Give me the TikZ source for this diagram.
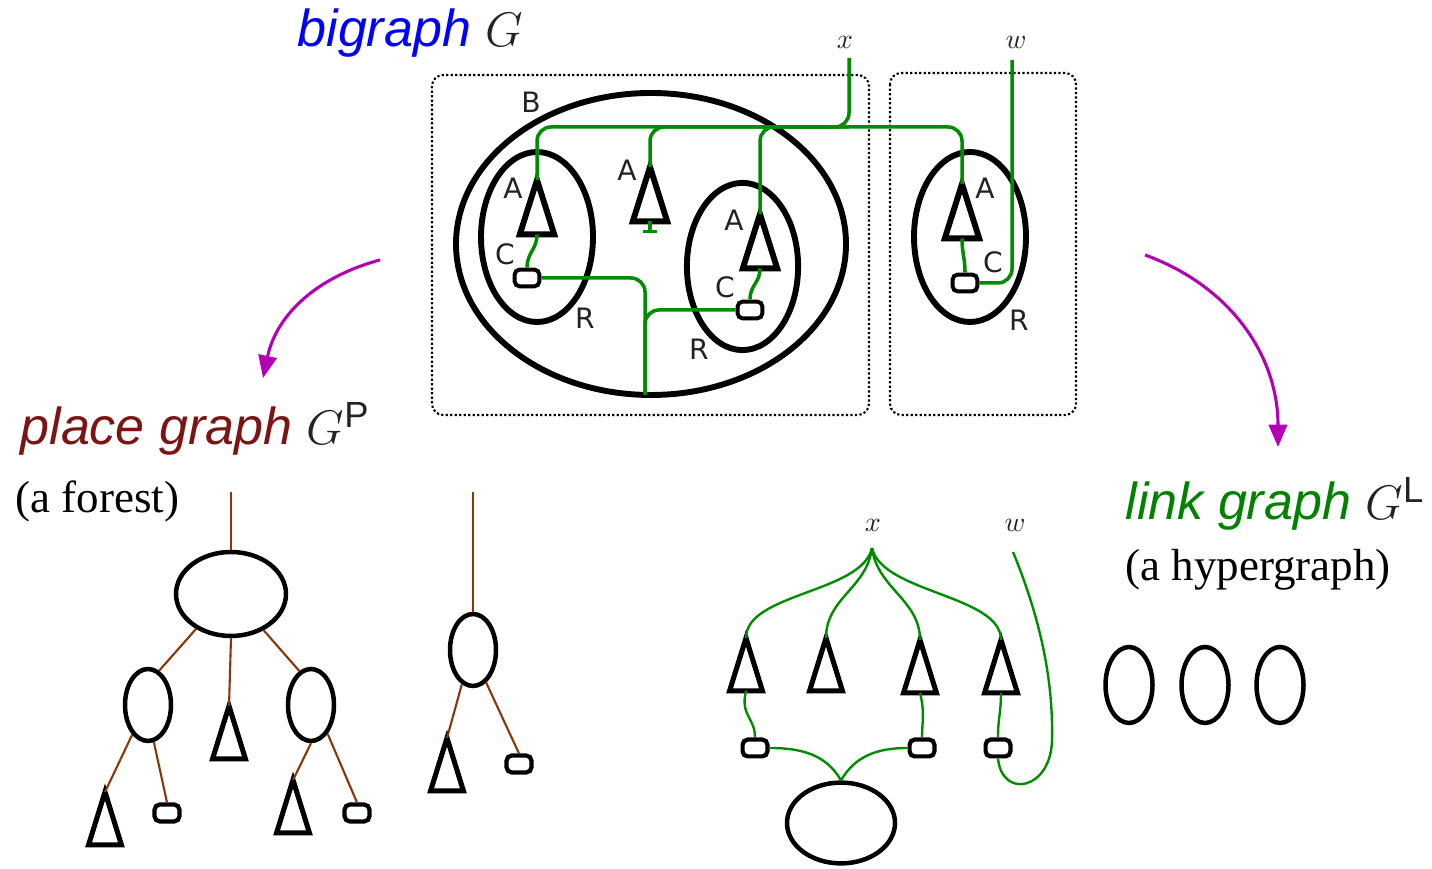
\documentclass[tikz,border=0pt]{standalone}
\usepackage{fontspec}
\setmainfont{Liberation Serif}
\setsansfont{Liberation Sans}
\newfontfamily\ctrlfont{DejaVu Sans}
\usetikzlibrary{arrows.meta,shapes.geometric}
\definecolor{linkgreen}{RGB}{0,140,0}
\definecolor{titlegreen}{RGB}{0,130,0}
\definecolor{placered}{RGB}{125,20,20}
\definecolor{edgebrown}{RGB}{135,55,10}
\definecolor{mapviolet}{RGB}{180,0,180}
\definecolor{labelgrey}{RGB}{35,35,35}
\tikzset{
  region/.style={draw=black,line width=2.1pt,ellipse,inner sep=0pt},
  ctrl/.style={draw=black,line width=2.1pt,isosceles triangle,isosceles triangle stretches,
               shape border rotate=90,minimum width=4.3mm,minimum height=6.8mm,inner sep=0pt,outer sep=0pt},
  atom/.style={draw=black,line width=1.4pt,rounded corners=1.8pt,minimum width=3.1mm,
               minimum height=2.1mm,inner sep=0pt},
  link/.style={linkgreen,line width=1.25pt},
  hyper/.style={linkgreen,line width=0.85pt},
  pedge/.style={edgebrown,line width=0.75pt},
  rootbox/.style={black,line width=0.75pt,dash pattern=on 0.8pt off 0.8pt,rounded corners=4pt},
  ctl/.style={font=\ctrlfont\fontsize{10}{12}\selectfont,text=labelgrey,inner sep=0pt},
  nm/.style={font=\normalsize,text=labelgrey,inner sep=0pt},
  title/.style={font=\sffamily\itshape\fontsize{18.5}{22}\selectfont,text=labelgrey,
                anchor=base west,inner sep=0pt},
  sub/.style={font=\fontsize{16}{19}\selectfont,anchor=base west,inner sep=0pt},
  decomp/.style={mapviolet,line width=1.1pt,-{Triangle[length=2.8mm,width=2.3mm]}},
}

\begin{document}
\begin{tikzpicture}[x=1.25cm,y=1.25cm]
  \path[use as bounding box] (0,0) rectangle (14.32,8.69);

  % titles
  \node[title] (tBig) at (2.97,8.22) {\textcolor{blue}{bigraph} $G$};
  \node[title] (tPlace) at (0.20,4.24) {\textcolor{placered}{place graph} $G^{\mathsf{P}}$};
  \node[sub] (sPlace) at (0.15,3.56) {(a forest)};
  \node[title] (tLink) at (11.25,3.49) {\textcolor{titlegreen}{link graph} $G^{\mathsf{L}}$};
  \node[sub] (sLink) at (11.25,2.88) {(a hypergraph)};

  % the bigraph: two roots
  \draw[rootbox] (4.32,7.94) rectangle (8.69,4.54);
  \draw[rootbox] (8.90,7.96) rectangle (10.76,4.54);

  \node[region,minimum width=4.875cm,minimum height=3.775cm] (rB) at (6.51,6.25) {};
  \node[region,minimum width=1.4cm,minimum height=2.125cm] (rL) at (5.37,6.32) {};
  \node[region,minimum width=1.39cm,minimum height=2.09cm] (rR) at (7.425,6.025) {};
  \node[region,minimum width=1.4cm,minimum height=2.125cm] (rW) at (9.70,6.32) {};

  \node[ctrl,anchor=apex] (cL) at (5.37,6.89) {};
  \node[ctrl,anchor=apex] (cM) at (6.50,7.02) {};
  \node[ctrl,anchor=apex] (cR) at (7.60,6.55) {};
  \node[ctrl,anchor=apex] (cW) at (9.62,6.85) {};

  \node[atom] (aL) at (5.27,5.91) {};
  \node[atom] (aR) at (7.50,5.59) {};
  \node[atom] (aW) at (9.65,5.86) {};

  \node[ctl] (lbB) at (5.31,7.67) {B};
  \node[ctl] (lbAL) at (5.13,6.81) {A};
  \node[ctl] (lbCL) at (5.05,6.15) {C};
  \node[ctl] (lbRL) at (5.85,5.51) {R};
  \node[ctl] (lbAM) at (6.27,6.99) {A};
  \node[ctl] (lbAR) at (7.34,6.49) {A};
  \node[ctl] (lbCR) at (7.25,5.82) {C};
  \node[ctl] (lbRR) at (6.99,5.20) {R};
  \node[ctl] (lbAW) at (9.85,6.81) {A};
  \node[ctl] (lbCW) at (9.93,6.07) {C};
  \node[ctl] (lbRW) at (10.19,5.49) {R};

  \node[nm] (nx) at (8.45,8.27) {$x$};
  \node[nm] (nw) at (10.16,8.27) {$w$};
  \coordinate (xtop) at (8.49,8.11);
  \coordinate (xjoin) at (8.49,7.42);
  \coordinate (wtop) at (10.12,8.09);
  \coordinate (rootB) at (6.45,4.74);

  % links of G
  \draw[link,rounded corners=5pt] (xtop) -- (xjoin) -| (cL.apex);
  \draw[link,rounded corners=5pt] (xjoin) -| (cM.apex);
  \draw[link,rounded corners=5pt] (xjoin) -| (cR.apex);
  \draw[link,rounded corners=5pt] (xjoin) -| (cW.apex);
  \draw[link] (cM.lower side) -- ++(0,-0.1) ++(-0.07,0) -- ++(0.14,0);
  \draw[link] (cL.lower side) .. controls +(0,-0.15) and +(0,0.15) .. (aL.north);
  \draw[link] (cR.lower side) .. controls +(0,-0.15) and +(0,0.15) .. (aR.north);
  \draw[link] (cW.lower side) .. controls +(0,-0.15) and +(0,0.15) .. (aW.north);
  \draw[link,rounded corners=5pt] (aL.east) -| (rootB);
  \draw[link,rounded corners=5pt] (aR.west) -| (rootB);
  \draw[link,rounded corners=5pt] (aW.east) -| (wtop);

  % decomposition arrows
  \coordinate (toPlaceS) at (3.80,6.09);
  \coordinate (toPlaceE) at (2.63,4.91);
  \coordinate (toLinkS) at (11.45,6.14);
  \coordinate (toLinkE) at (12.78,4.22);
  \draw[decomp] (toPlaceS) to[out=195,in=78] (toPlaceE);
  \draw[decomp] (toLinkS) to[out=-20,in=90] (toLinkE);

  % place graph
  \begin{scope}[region/.append style={line width=1.6pt},
                ctrl/.append style={line width=1.8pt,minimum width=4.1mm,minimum height=6.6mm},
                atom/.append style={line width=1.5pt}]
  \node[region,minimum width=1.375cm,minimum height=1.05cm] (pRoot) at (2.31,2.75) {};
  \node[region,minimum width=0.575cm,minimum height=0.9cm] (pL) at (1.48,1.64) {};
  \node[region,minimum width=0.575cm,minimum height=0.9cm] (pR) at (3.11,1.64) {};
  \node[region,minimum width=0.575cm,minimum height=0.9cm] (pT) at (4.73,2.19) {};
  \node[ctrl,anchor=apex] (pLc) at (1.05,0.77) {};
  \node[ctrl,anchor=apex] (pMc) at (2.29,1.63) {};
  \node[ctrl,anchor=apex] (pRc) at (2.93,0.89) {};
  \node[ctrl,anchor=apex] (pTc) at (4.47,1.31) {};
  \node[atom] (pLa) at (1.67,0.56) {};
  \node[atom] (pRa) at (3.57,0.56) {};
  \node[atom] (pTa) at (5.19,1.05) {};
  \coordinate (pTop1) at (2.31,3.77);
  \coordinate (pTop2) at (4.73,3.77);
  \draw[pedge] (pTop1) -- (pRoot.north);
  \draw[pedge] (pRoot.225) -- (pL.72);
  \draw[pedge] (pRoot.south) -- (pMc.apex);
  \draw[pedge] (pRoot.312) -- (pR.109);
  \draw[pedge] (pL.242) -- (pLc.apex);
  \draw[pedge] (pL.279) -- (pLa.north);
  \draw[pedge] (pR.270) -- (pRc.apex);
  \draw[pedge] (pR.300) -- (pRa.north);
  \draw[pedge] (pTop2) -- (pT.north);
  \draw[pedge] (pT.252) -- (pTc.apex);
  \draw[pedge] (pT.292) -- (pTa.north);

  % link graph
  \node[ctrl,anchor=apex] (lc1) at (7.46,2.31) {};
  \node[ctrl,anchor=apex] (lc2) at (8.26,2.31) {};
  \node[ctrl,anchor=apex] (lc3) at (9.20,2.29) {};
  \node[ctrl,anchor=apex] (lc4) at (10.01,2.29) {};
  \node[atom] (la1) at (7.55,1.21) {};
  \node[atom] (la3) at (9.22,1.21) {};
  \node[atom] (la4) at (9.98,1.21) {};
  \node[region,minimum width=1.35cm,minimum height=1.01cm] (lR) at (8.41,0.46) {};
  \node[region,minimum width=0.5875cm,minimum height=0.95cm] (lR2) at (11.29,1.84) {};
  \node[region,minimum width=0.5875cm,minimum height=0.95cm] (lR3) at (12.05,1.84) {};
  \node[region,minimum width=0.5875cm,minimum height=0.95cm] (lR4) at (12.80,1.84) {};
  \end{scope}

  \node[nm] (lx) at (8.73,3.44) {$x$};
  \node[nm] (lw) at (10.15,3.44) {$w$};
  \coordinate (hub) at (8.72,3.21);
  \coordinate (wEnd) at (10.13,3.17);
  \coordinate (wBend) at (10.52,1.29);
  \draw[hyper] (hub) .. controls +(-0.10,-0.45) and +(0,0.45) .. (lc1.apex);
  \draw[hyper] (hub) .. controls +(-0.05,-0.40) and +(0,0.40) .. (lc2.apex);
  \draw[hyper] (hub) .. controls +(0.05,-0.40) and +(0,0.40) .. (lc3.apex);
  \draw[hyper] (hub) .. controls +(0.10,-0.45) and +(0,0.45) .. (lc4.apex);
  \draw[hyper] (lc1.lower side) .. controls +(-0.06,-0.25) and +(0,0.2) .. (la1.north);
  \draw[hyper] (lc3.lower side) .. controls +(0.05,-0.2) and +(0,0.15) .. (la3.north);
  \draw[hyper] (lc4.lower side) .. controls +(0,-0.2) and +(0,0.2) .. (la4.north);
  \draw[hyper] (la1.east) to[out=0,in=120] (lR.north);
  \draw[hyper] (la3.west) to[out=180,in=60] (lR.north);
  \draw[hyper] (wEnd) .. controls +(0.32,-0.78) and +(0.01,0.5) .. (wBend)
    .. controls +(-0.01,-0.5) and +(0.04,-0.41) .. (la4.south);
\end{tikzpicture}
\end{document}
